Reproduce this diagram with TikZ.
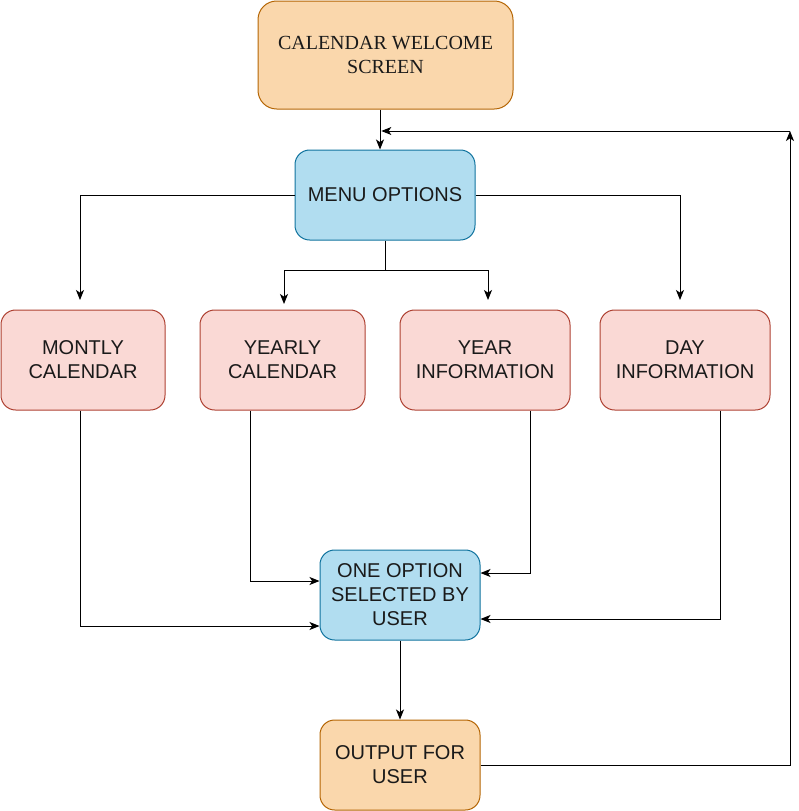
\documentclass[tikz,border=0pt]{standalone}
\usepackage{fontspec}
\setmainfont{Liberation Serif}
\setsansfont{Liberation Sans}
\usetikzlibrary{arrows.meta}
\definecolor{orfill}{HTML}{FAD7AC}
\definecolor{ordraw}{HTML}{B46504}
\definecolor{blfill}{HTML}{B1DDF0}
\definecolor{bldraw}{HTML}{10739E}
\definecolor{pkfill}{HTML}{FAD9D5}
\definecolor{pkdraw}{HTML}{AE4132}
\definecolor{txt}{HTML}{1A1A1A}
\tikzset{
  box/.style={draw, line width=0.75pt, rounded corners=11pt, align=center, text=txt,
    font=\sffamily\fontsize{15}{18}\selectfont, inner sep=0pt},
  orbox/.style={box, fill=orfill, draw=ordraw},
  blbox/.style={box, fill=blfill, draw=bldraw},
  pkbox/.style={box, fill=pkfill, draw=pkdraw},
  arr/.style={draw, line width=0.75pt, -{Stealth[length=7.5pt, width=6pt, inset=2pt]}},
  ln/.style={draw, line width=0.75pt}
}
\begin{document}
\begin{tikzpicture}[x=0.75pt, y=-0.75pt]
\useasboundingbox (0,0) rectangle (799,811);
\node[orbox, minimum width=191.25pt, minimum height=81pt, rounded corners=14pt,
  font=\rmfamily\fontsize{15}{18}\selectfont] (wel) at (385.5,55) {CALENDAR WELCOME\\SCREEN};
\node[blbox, minimum width=135pt, minimum height=67.5pt] (menu) at (385,195) {MENU OPTIONS};
\node[pkbox, minimum width=123pt, minimum height=75pt] (mon) at (83,360) {MONTLY\\CALENDAR};
\node[pkbox, minimum width=123.75pt, minimum height=75pt] (yr) at (282.5,360) {YEARLY\\CALENDAR};
\node[pkbox, minimum width=127.5pt, minimum height=75pt] (yi) at (485,360) {YEAR\\INFORMATION};
\node[pkbox, minimum width=127.5pt, minimum height=75pt] (di) at (685,360) {DAY\\INFORMATION};
\node[blbox, minimum width=120pt, minimum height=67.5pt] (one) at (400,595) {ONE OPTION\\SELECTED BY\\USER};
\node[orbox, minimum width=120pt, minimum height=67.5pt] (out) at (400,765) {OUTPUT FOR\\USER};

\coordinate (cx) at (380,0);
\coordinate (c1) at (80,300);
\coordinate (c2) at (284,304);
\coordinate (c3) at (488,300);
\coordinate (c4) at (680,300);
\coordinate (c5) at (790,131);
\coordinate (ym) at (250,626);
\coordinate (yy) at (250,581);
\coordinate (yi1) at (530,573);
\coordinate (di1) at (720,619);

\draw[arr] (wel.south -| cx) -- (menu.north -| cx);
\draw[arr] (menu.west) -| (c1);
\draw[ln] (menu.south) -- ++(0,30);
\draw[arr] ([yshift=-30*0.75pt]menu.south) -| (c2);
\draw[arr] ([yshift=-30*0.75pt]menu.south) -| (c3);
\draw[arr] (menu.east) -| (c4);

\draw[arr] (mon.south -| c1) |- (one.west |- ym);
\draw[arr] (yr.south -| yy) |- (one.west |- yy);
\draw[arr] (yi.south -| yi1) |- (one.east |- yi1);
\draw[arr] (di.south -| di1) |- (one.east |- di1);
\draw[arr] (one.south) -- (out.north);
\draw[arr] (out.east) -| (c5);
\draw[arr] (c5) -- ([xshift=1pt]cx |- c5);
\end{tikzpicture}
\end{document}
